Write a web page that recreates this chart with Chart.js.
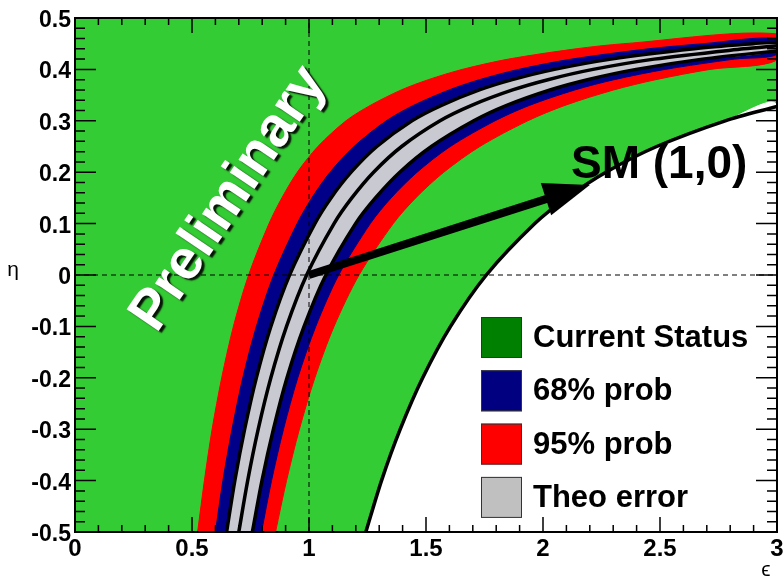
<!DOCTYPE html>
<html>
<head>
<meta charset="utf-8">
<script src="https://cdn.jsdelivr.net/npm/chart.js@4.4.1/dist/chart.umd.min.js"></script>
<style>
  html, body { margin: 0; padding: 0; background: #fff; }
  canvas { display: block; }
</style>
</head>
<body>
<canvas id="fitChart" width="784" height="581"></canvas>
<script>
// eta levels where the contour boundaries were sampled
const ETA = [-0.5, -0.4, -0.3, -0.2, -0.1, 0, 0.1, 0.15, 0.2, 0.25, 0.3, 0.33, 0.36, 0.38, 0.4, 0.42, 0.44, 0.45];

// epsilon of each boundary at the eta levels above (stops before the frame edge)
const redLow    = [0.524, 0.553, 0.586, 0.627, 0.677, 0.742, 0.829, 0.884, 0.950, 1.038, 1.158, 1.262, 1.394, 1.510, 1.655, 1.852, 2.141, 2.345];
const blueLow   = [0.600, 0.632, 0.671, 0.717, 0.775, 0.849, 0.949, 1.012, 1.090, 1.192, 1.330, 1.446, 1.598, 1.728, 1.895, 2.121, 2.449, 2.683];
const theoLow   = [0.648, 0.683, 0.725, 0.775, 0.837, 0.917, 1.025, 1.094, 1.180, 1.290, 1.440, 1.566, 1.728, 1.869, 2.049, 2.291, 2.646, 2.898];
const central   = [0.700, 0.738, 0.783, 0.837, 0.904, 0.990, 1.107, 1.183, 1.276, 1.396, 1.560, 1.695, 1.870, 2.021, 2.214, 2.475, 2.858];
const theoHigh  = [0.758, 0.799, 0.848, 0.906, 0.979, 1.072, 1.199, 1.284, 1.388, 1.523, 1.704, 1.845, 2.030, 2.190, 2.398, 2.681];
const blueHigh  = [0.797, 0.840, 0.891, 0.952, 1.029, 1.127, 1.262, 1.351, 1.462, 1.604, 1.795, 1.942, 2.136, 2.304, 2.522, 2.817];
const redHigh   = [0.857, 0.904, 0.959, 1.025, 1.107, 1.214, 1.360, 1.456, 1.576, 1.730, 1.935, 2.094, 2.302, 2.482, 2.714];
const allowed   = [1.243, 1.310, 1.390, 1.486, 1.605, 1.758, 1.965, 2.101, 2.269, 2.486, 2.779];

// eta where each boundary meets epsilon = 3
const EDGE = { redLow: 0.469, blueLow: 0.460, theoLow: 0.453, central: 0.446,
               theoHigh: 0.436, blueHigh: 0.429, redHigh: 0.418, allowed: 0.328 };

const X_MIN = 0, X_MAX = 3, Y_MIN = -0.5, Y_MAX = 0.5;
const X_TICKS = ['0', '0.5', '1', '1.5', '2', '2.5', '3'];
const Y_TICKS = ['-0.5', '-0.4', '-0.3', '-0.2', '-0.1', '0', '0.1', '0.2', '0.3', '0.4', '0.5'];

const SM_POINT = { x: 1, y: 0 };
const ARROW_TIP = { x: 2.2, y: 0.175 };

const LEGEND_LABELS = ['Current Status', '68% prob', '95% prob', 'Theo error'];
const LEGEND_COLORS = ['#008000', '#000080', '#ff0000', '#c0c0c0'];

const GREEN = '#34cc34', BLUE = '#000088', RED = '#ff0000', GREY = '#c9c9d2';
const FONT = "'Liberation Sans', Arial, Helvetica, sans-serif";

function curve(eps, edge) {
  const pts = eps.map((e, i) => ({ x: e, y: ETA[i] }));
  pts.push({ x: X_MAX, y: edge });
  return pts;
}
function band(lo, loEdge, hi, hiEdge) {
  return curve(lo, loEdge).concat(curve(hi, hiEdge).reverse());
}

function areaSet(data, color, order) {
  return { data, order, fill: 'shape', backgroundColor: color, borderColor: color,
           borderWidth: 1, pointRadius: 0 };
}
function lineSet(data, order, extra) {
  return Object.assign({ data, order, fill: false, borderColor: '#000', borderWidth: 3.5,
                         pointRadius: 0 }, extra || {});
}

const datasets = [
  areaSet(band(redLow, EDGE.redLow, redHigh, EDGE.redHigh), RED, 10),
  areaSet(band(blueLow, EDGE.blueLow, blueHigh, EDGE.blueHigh), BLUE, 9),
  areaSet(band(theoLow, EDGE.theoLow, theoHigh, EDGE.theoHigh), GREY, 8),
  lineSet(curve(theoLow, EDGE.theoLow), 7),
  lineSet(curve(central, EDGE.central), 7),
  lineSet(curve(theoHigh, EDGE.theoHigh), 7),
  areaSet(curve(allowed, EDGE.allowed).concat([{ x: X_MAX, y: Y_MIN }]), '#ffffff', 6),
  lineSet(curve(allowed, EDGE.allowed), 5),
  lineSet([{ x: SM_POINT.x, y: Y_MIN }, { x: SM_POINT.x, y: Y_MAX }], 4, { borderWidth: 1, borderDash: [5, 4], tension: 0 }),
  lineSet([{ x: X_MIN, y: SM_POINT.y }, { x: X_MAX, y: SM_POINT.y }], 4, { borderWidth: 1, borderDash: [5, 4], tension: 0 })
];

// green "current status" fill behind everything
const backdrop = {
  id: 'backdrop',
  beforeDraw(chart) {
    const { ctx, chartArea: a } = chart;
    ctx.save();
    ctx.fillStyle = GREEN;
    ctx.fillRect(a.left, a.top, a.right - a.left, a.bottom - a.top);
    ctx.restore();
  }
};

// arrow, labels and legend on top of the contours
const overlay = {
  id: 'overlay',
  afterDatasetsDraw(chart) {
    const { ctx, scales: { x, y } } = chart;
    ctx.save();

    // arrow from the SM point
    const x0 = x.getPixelForValue(SM_POINT.x), y0 = y.getPixelForValue(SM_POINT.y);
    const x1 = x.getPixelForValue(ARROW_TIP.x), y1 = y.getPixelForValue(ARROW_TIP.y);
    const ang = Math.atan2(y1 - y0, x1 - x0);
    const headLen = 46, headHalf = 17;
    const bx = x1 - headLen * Math.cos(ang), by = y1 - headLen * Math.sin(ang);
    ctx.strokeStyle = '#000';
    ctx.lineWidth = 8;
    ctx.beginPath();
    ctx.moveTo(x0, y0);
    ctx.lineTo(bx + 4 * Math.cos(ang), by + 4 * Math.sin(ang));
    ctx.stroke();
    ctx.fillStyle = '#000';
    ctx.beginPath();
    ctx.moveTo(x1, y1);
    ctx.lineTo(bx - headHalf * Math.sin(ang), by + headHalf * Math.cos(ang));
    ctx.lineTo(bx + headHalf * Math.sin(ang), by - headHalf * Math.cos(ang));
    ctx.closePath();
    ctx.fill();

    ctx.font = 'bold 46px ' + FONT;
    ctx.textAlign = 'left';
    ctx.textBaseline = 'alphabetic';
    ctx.fillText('SM (1,0)', 571, 178);

    // Preliminary stamp
    ctx.save();
    ctx.translate(229, 199);
    ctx.rotate(-56 * Math.PI / 180);
    ctx.font = 'bold 56px ' + FONT;
    ctx.textAlign = 'center';
    ctx.textBaseline = 'middle';
    ctx.shadowColor = 'rgba(0,0,0,0.9)';
    ctx.shadowOffsetX = 3;
    ctx.shadowOffsetY = 2;
    ctx.shadowBlur = 1.5;
    ctx.fillStyle = '#fff';
    ctx.fillText('Preliminary', 0, 0);
    ctx.restore();

    // legend
    ctx.font = 'bold 31px ' + FONT;
    ctx.textAlign = 'left';
    ctx.textBaseline = 'alphabetic';
    LEGEND_LABELS.forEach((label, i) => {
      const top = 317 + i * 53.3;
      ctx.fillStyle = LEGEND_COLORS[i];
      ctx.fillRect(481, top, 41, 41);
      ctx.strokeStyle = '#333';
      ctx.lineWidth = 1;
      ctx.strokeRect(481.5, top + 0.5, 40, 40);
      ctx.fillStyle = '#000';
      ctx.fillText(label, 533, top + 30);
    });
    ctx.restore();
  },

  // ROOT-like frame with inward ticks
  afterDraw(chart) {
    const { ctx, chartArea: a, scales: { x, y } } = chart;
    ctx.save();
    ctx.strokeStyle = '#000';
    ctx.lineWidth = 1.5;
    ctx.beginPath();
    for (let i = 0; i <= 50; i++) {
      const py = y.getPixelForValue(Y_MIN + i * 0.02);
      const len = i % 5 === 0 ? 21 : 10;
      ctx.moveTo(a.left, py); ctx.lineTo(a.left + len, py);
      ctx.moveTo(a.right, py); ctx.lineTo(a.right - len, py);
    }
    for (let i = 0; i <= 30; i++) {
      const px = x.getPixelForValue(X_MIN + i * 0.1);
      const len = i % 5 === 0 ? 15 : 7;
      ctx.moveTo(px, a.bottom); ctx.lineTo(px, a.bottom - len);
      ctx.moveTo(px, a.top); ctx.lineTo(px, a.top + len);
    }
    ctx.stroke();
    ctx.lineWidth = 2;
    ctx.strokeRect(a.left, a.top, a.right - a.left, a.bottom - a.top);

    ctx.fillStyle = '#000';
    ctx.font = 'bold 23px ' + FONT;
    ctx.textAlign = 'right';
    ctx.textBaseline = 'alphabetic';
    Y_TICKS.forEach(t => ctx.fillText(t, a.left - 4, y.getPixelForValue(Number(t)) + 9));
    ctx.font = 'bold 24px ' + FONT;
    ctx.textAlign = 'center';
    X_TICKS.forEach(t => ctx.fillText(t, x.getPixelForValue(Number(t)), a.bottom + 24));

    // axis titles
    ctx.font = '21px ' + FONT;
    ctx.fillText('\u03f5', 766, 576);
    ctx.fillText('\u03b7', 13, 276);
    ctx.restore();
  }
};

new Chart(document.getElementById('fitChart'), {
  type: 'line',
  data: { datasets },
  options: {
    responsive: false,
    animation: false,
    devicePixelRatio: 1,
    events: [],
    layout: { padding: { left: 75, top: 18, right: 7, bottom: 49 } },
    plugins: { legend: { display: false }, tooltip: { enabled: false } },
    elements: { line: { tension: 0.3 }, point: { radius: 0 } },
    scales: {
      x: { type: 'linear', min: X_MIN, max: X_MAX, display: false },
      y: { type: 'linear', min: Y_MIN, max: Y_MAX, display: false }
    }
  },
  plugins: [backdrop, overlay]
});
</script>
</body>
</html>
